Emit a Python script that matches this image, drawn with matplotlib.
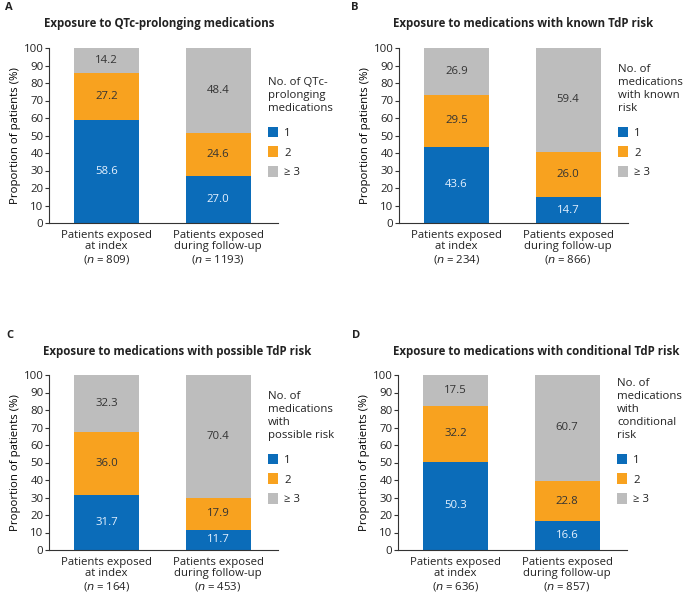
import matplotlib
matplotlib.use("Agg")
import matplotlib.pyplot as plt
from matplotlib.patches import Patch

plt.rcParams['font.family'] = ['Open Sans', 'DejaVu Sans']
plt.rcParams['text.color'] = '#222222'
plt.rcParams['xtick.color'] = '#222222'
plt.rcParams['ytick.color'] = '#222222'

# data (percent of patients)
groups_a = ["Patients exposed\nat index\n($n$ = 809)", "Patients exposed\nduring follow-up\n($n$ = 1193)"]
groups_b = ["Patients exposed\nat index\n($n$ = 234)", "Patients exposed\nduring follow-up\n($n$ = 866)"]
groups_c = ["Patients exposed\nat index\n($n$ = 164)", "Patients exposed\nduring follow-up\n($n$ = 453)"]
groups_d = ["Patients exposed\nat index\n($n$ = 636)", "Patients exposed\nduring follow-up\n($n$ = 857)"]

one_a = [58.6, 27.0]
two_a = [27.2, 24.6]
three_a = [14.2, 48.4]

one_b = [43.6, 14.7]
two_b = [29.5, 26.0]
three_b = [26.9, 59.4]

one_c = [31.7, 11.7]
two_c = [36.0, 17.9]
three_c = [32.3, 70.4]

one_d = [50.3, 16.6]
two_d = [32.2, 22.8]
three_d = [17.5, 60.7]

categories = ["1", "2", "\u2265 3"]
colors = ["#0b6cb9", "#f8a21f", "#bdbdbd"]
text_colors = ["#e6f2ff", "#333333", "#333333"]

panels = [
    ("A", "Exposure to QTc-prolonging medications", groups_a, [one_a, two_a, three_a],
     "No. of QTc-\nprolonging\nmedications"),
    ("B", "Exposure to medications with known TdP risk", groups_b, [one_b, two_b, three_b],
     "No. of\nmedications\nwith known\nrisk"),
    ("C", "Exposure to medications with possible TdP risk", groups_c, [one_c, two_c, three_c],
     "No. of\nmedications\nwith\npossible risk"),
    ("D", "Exposure to medications with conditional TdP risk", groups_d, [one_d, two_d, three_d],
     "No. of\nmedications\nwith\nconditional\nrisk"),
]

W, H = 685, 596
fig = plt.figure(figsize=(W / 100, H / 100), dpi=100)

# axes boxes in pixels: left, top(y=100), right, bottom(y=0)
boxes = [(49, 48, 278, 223), (399, 48, 628, 223), (49, 375, 278, 550), (398, 375, 627, 550)]
# title centre offset from axes left, letter x
title_dx = [110, 124, 128, 138]
letter_x = [5, 351, 6, 352]

for (letter, title, groups, series, leg_title), (l, t, r, b), tdx, lx in zip(panels, boxes, title_dx, letter_x):
    ax = fig.add_axes([l / W, 1 - b / H, (r - l) / W, (b - t) / H])
    x = [0, 1]
    bottom = [0, 0]
    for vals, col, tc in zip(series, colors, text_colors):
        ax.bar(x, vals, width=0.583, bottom=bottom, color=col, edgecolor="none")
        for xi, v, b0 in zip(x, vals, bottom):
            ax.text(xi, b0 + v / 2, f"{v:.1f}", ha="center", va="center",
                    color=tc, fontsize=8.2)
        bottom = [b0 + v for b0, v in zip(bottom, vals)]

    ax.set_xlim(-0.516, 1.538)
    ax.set_ylim(0, 100)
    ax.set_yticks(range(0, 101, 10))
    ax.set_xticks(x)
    ax.set_xticklabels(groups, fontsize=8.2, linespacing=1.05)
    ax.tick_params(axis="x", length=0, pad=5)
    ax.tick_params(axis="y", length=3, width=0.8, labelsize=8.2, pad=1, color="#333333")
    ax.set_ylabel("Proportion of patients (%)", fontsize=8.2, labelpad=2)
    for s in ["top", "right"]:
        ax.spines[s].set_visible(False)
    for s in ["left", "bottom"]:
        ax.spines[s].set_linewidth(0.8)
        ax.spines[s].set_color("#333333")

    handles = [Patch(facecolor=c, edgecolor="none") for c in colors]
    leg = ax.legend(handles, categories, title=leg_title, loc="lower left",
                    bbox_to_anchor=(0.956, 0.255), frameon=False, fontsize=8.2,
                    title_fontsize=8.2, alignment="left", handlelength=0.85,
                    handleheight=1.1, handletextpad=0.6, labelspacing=0.65,
                    borderpad=0, borderaxespad=0)
    leg.get_title().set_linespacing(1.25)
    leg._legend_box.sep = 9

    fig.text((l + tdx) / W, 1 - (t - 24) / H, title,
             ha="center", va="center", fontsize=8.3, fontweight="bold")
    fig.text(lx / W, 1 - (t - 40) / H, letter,
             ha="left", va="center", fontsize=8, fontweight="bold")

fig.savefig("out.png", dpi=100)
